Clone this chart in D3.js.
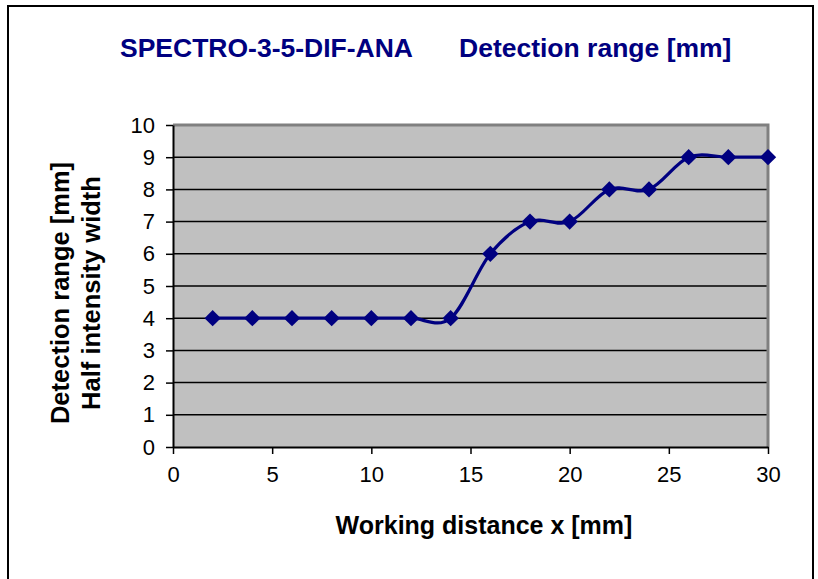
<!DOCTYPE html>
<html>
<head>
<meta charset="utf-8">
<script src="https://cdn.jsdelivr.net/npm/d3@7"></script>
<style>
  body { margin: 0; background: #fff; }
  text { font-family: Arial, "Liberation Sans", sans-serif; }
</style>
</head>
<body>
<script>
// Data
const distances = [2, 4, 6, 8, 10, 12, 14, 16, 18, 20, 22, 24, 26, 28, 30];
const ranges = [4, 4, 4, 4, 4, 4, 4, 6, 7, 7, 8, 8, 9, 9, 9];
const xTicks = [0, 5, 10, 15, 20, 25, 30];
const yTicks = [0, 1, 2, 3, 4, 5, 6, 7, 8, 9, 10];

const width = 818;
const height = 579;
const plot = { left: 173, right: 768, top: 125, bottom: 447 };

const svg = d3.select("body")
  .append("svg")
  .attr("width", width)
  .attr("height", height);

// Outer chart frame
svg.append("rect")
  .attr("x", 8)
  .attr("y", 6)
  .attr("width", 805)
  .attr("height", 600)
  .attr("fill", "#fff")
  .attr("stroke", "#000")
  .attr("stroke-width", 2);

const x = d3.scaleLinear().domain([0, 30]).range([plot.left, plot.right]);
const y = d3.scaleLinear().domain([0, 10]).range([plot.bottom, plot.top]);

// Plot area
svg.append("rect")
  .attr("x", plot.left)
  .attr("y", plot.top)
  .attr("width", plot.right - plot.left)
  .attr("height", plot.bottom - plot.top)
  .attr("fill", "#c0c0c0");

// Gridlines
svg.append("g")
  .selectAll("line")
  .data(yTicks.slice(1, -1))
  .enter()
  .append("line")
  .attr("x1", plot.left)
  .attr("x2", plot.right)
  .attr("y1", d => y(d))
  .attr("y2", d => y(d))
  .attr("stroke", "#000")
  .attr("stroke-width", 1.5);

// Grey border on top and right
svg.append("path")
  .attr("d", `M${plot.left},${plot.top}H${plot.right}V${plot.bottom}`)
  .attr("fill", "none")
  .attr("stroke", "#808080")
  .attr("stroke-width", 3);

// Axes
const xAxis = svg.append("g")
  .attr("transform", `translate(0,${plot.bottom})`)
  .call(d3.axisBottom(x).tickValues(xTicks).tickSize(7).tickPadding(12).tickSizeOuter(0));

const yAxis = svg.append("g")
  .attr("transform", `translate(${plot.left},0)`)
  .call(d3.axisLeft(y).tickValues(yTicks).tickSize(7).tickPadding(11).tickSizeOuter(0));

[xAxis, yAxis].forEach(g => {
  g.select(".domain").attr("stroke", "#000").attr("stroke-width", 2);
  g.selectAll(".tick line").attr("stroke", "#000").attr("stroke-width", 1.5);
  g.selectAll(".tick text")
    .attr("fill", "#000")
    .style("font-size", "22px");
});

// Series line (smoothed)
const line = d3.line()
  .x((d, i) => x(distances[i]))
  .y(d => y(d))
  .curve(d3.curveCardinal.tension(0));

svg.append("path")
  .datum(ranges)
  .attr("d", line)
  .attr("fill", "none")
  .attr("stroke", "#000080")
  .attr("stroke-width", 3.2);

// Diamond markers
const diamond = d3.symbol().type(d3.symbolDiamond2).size(170);
svg.append("g")
  .selectAll("path")
  .data(ranges)
  .enter()
  .append("path")
  .attr("d", diamond)
  .attr("transform", (d, i) => `translate(${x(distances[i])},${y(d)})`)
  .attr("fill", "#000080");

// Title
svg.append("text")
  .attr("x", 120)
  .attr("y", 57)
  .attr("fill", "#000080")
  .style("font-size", "26.5px")
  .style("font-weight", "bold")
  .text("SPECTRO-3-5-DIF-ANA");

svg.append("text")
  .attr("x", 459)
  .attr("y", 57)
  .attr("fill", "#000080")
  .style("font-size", "26.5px")
  .style("font-weight", "bold")
  .text("Detection range [mm]");

// Axis titles
svg.append("text")
  .attr("x", 484)
  .attr("y", 534)
  .attr("text-anchor", "middle")
  .style("font-size", "25px")
  .style("font-weight", "bold")
  .text("Working distance x [mm]");

const yTitle = svg.append("text")
  .attr("transform", "translate(69,293) rotate(-90)")
  .attr("text-anchor", "middle")
  .style("font-size", "25.5px")
  .style("font-weight", "bold");

yTitle.append("tspan")
  .attr("x", 0)
  .attr("y", 0)
  .text("Detection range [mm]");

yTitle.append("tspan")
  .attr("x", 0)
  .attr("dy", 31)
  .text("Half intensity width");
</script>
</body>
</html>
